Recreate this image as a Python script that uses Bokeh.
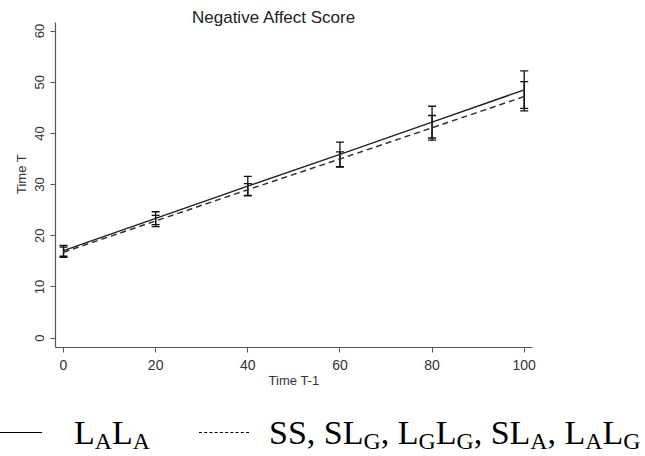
from bokeh.plotting import figure
from bokeh.models import (ColumnDataSource, Whisker, TeeHead, FixedTicker, Label,
                          Range1d, Div)
from bokeh.layouts import column
from bokeh.embed import file_html
from bokeh.resources import INLINE

# ---- data ----
x_vals = [0, 20, 40, 60, 80, 100]
solid_mean = [17.1, 23.4, 29.7, 35.9, 42.2, 48.5]
solid_lower = [16.0, 22.2, 27.9, 33.4, 39.1, 44.9]
solid_upper = [18.1, 24.7, 31.6, 38.3, 45.3, 52.2]
dashed_mean = [16.8, 22.9, 29.0, 35.0, 41.1, 47.2]
dashed_lower = [15.8, 21.8, 27.8, 33.5, 38.7, 44.4]
dashed_upper = [17.8, 24.0, 30.2, 36.4, 43.5, 50.1]
x_ticks = [0, 20, 40, 60, 80, 100]
y_ticks = [0, 10, 20, 30, 40, 50, 60]
title_text = "Negative Affect Score"
x_label = "Time T-1"
y_label = "Time T"

src_solid = ColumnDataSource(dict(x=x_vals, m=solid_mean, lo=solid_lower, up=solid_upper))
src_dash = ColumnDataSource(dict(x=x_vals, m=dashed_mean, lo=dashed_lower, up=dashed_upper))

p = figure(width=645, height=400, output_backend="svg", toolbar_location=None,
           x_range=Range1d(-1.74, 101.8), y_range=Range1d(-1.82, 65.96),
           min_border_left=55, min_border_right=113, min_border_top=0,
           min_border_bottom=53)
p.outline_line_color = None
p.xgrid.visible = False
p.ygrid.visible = False
p.background_fill_color = "white"
p.border_fill_color = "white"

p.line("x", "m", source=src_solid, line_color="#222222", line_width=1.5)
p.line("x", "m", source=src_dash, line_color="#333333", line_width=1.5, line_dash="6 4")

for src in (src_solid, src_dash):
    w = Whisker(base="x", upper="up", lower="lo", source=src,
                line_color="#111111", line_width=1.3,
                upper_head=TeeHead(size=8, line_color="#111111", line_width=1.3),
                lower_head=TeeHead(size=8, line_color="#111111", line_width=1.3))
    p.add_layout(w)

for ax in (p.xaxis[0], p.yaxis[0]):
    ax.axis_line_color = "#555555"
    ax.axis_line_width = 1.2
    ax.major_tick_line_color = "#555555"
    ax.major_tick_out = 5
    ax.major_tick_in = 0
    ax.minor_tick_line_color = None
    ax.major_label_text_font = "Liberation Sans"
    ax.major_label_text_font_size = "14px"
    ax.major_label_text_color = "#333333"
    ax.axis_label_text_font = "Liberation Sans"
    ax.axis_label_text_font_size = "13px"
    ax.axis_label_text_font_style = "normal"
    ax.axis_label_text_color = "#333333"

p.xaxis.ticker = FixedTicker(ticks=x_ticks)
p.yaxis.ticker = FixedTicker(ticks=y_ticks)
p.xaxis.bounds = (-1.74, 101.8)
p.yaxis.bounds = (-1.82, 61.66)
p.xaxis.axis_label = x_label
p.yaxis.axis_label = y_label
p.xaxis.major_label_standoff = 7
p.xaxis.axis_label_standoff = 0
p.yaxis.major_label_standoff = 6
p.yaxis.axis_label_standoff = 4
p.yaxis.major_label_text_font_size = "13px"
p.yaxis.major_label_orientation = "vertical"

p.add_layout(Label(x=45.7, y=62.6, text=title_text, text_align="center",
                   text_baseline="alphabetic", text_font="Liberation Sans",
                   text_font_size="17px", text_color="#222222"))

sub = "font-size:0.7em; vertical-align:-0.2em; line-height:0;"
legend_html = (
    '<div style="position:relative; width:645px; height:49px; '
    'font-family:\'Liberation Serif\'; font-size:34px; line-height:1; color:#000; white-space:nowrap;">'
    '<span style="position:absolute; left:-5px; top:27px; width:42px; border-top:1.5px solid #000;"></span>'
    f'<span style="position:absolute; left:69px; top:11px;">L<span style="{sub}">A</span>L<span style="{sub}">A</span></span>'
    '<span style="position:absolute; left:194px; top:27px; width:50px; border-top:1.2px dashed #000;"></span>'
    f'<span style="position:absolute; left:264px; top:11px;">SS, SL<span style="{sub}">G</span>, '
    f'L<span style="{sub}">G</span>L<span style="{sub}">G</span>, SL<span style="{sub}">A</span>, '
    f'L<span style="{sub}">A</span>L<span style="{sub}">G</span></span>'
    '</div>'
)
legend = Div(text=legend_html, width=645, height=49)

layout = column(p, legend, spacing=0)
open("out.html", "w").write(file_html(layout, INLINE))
